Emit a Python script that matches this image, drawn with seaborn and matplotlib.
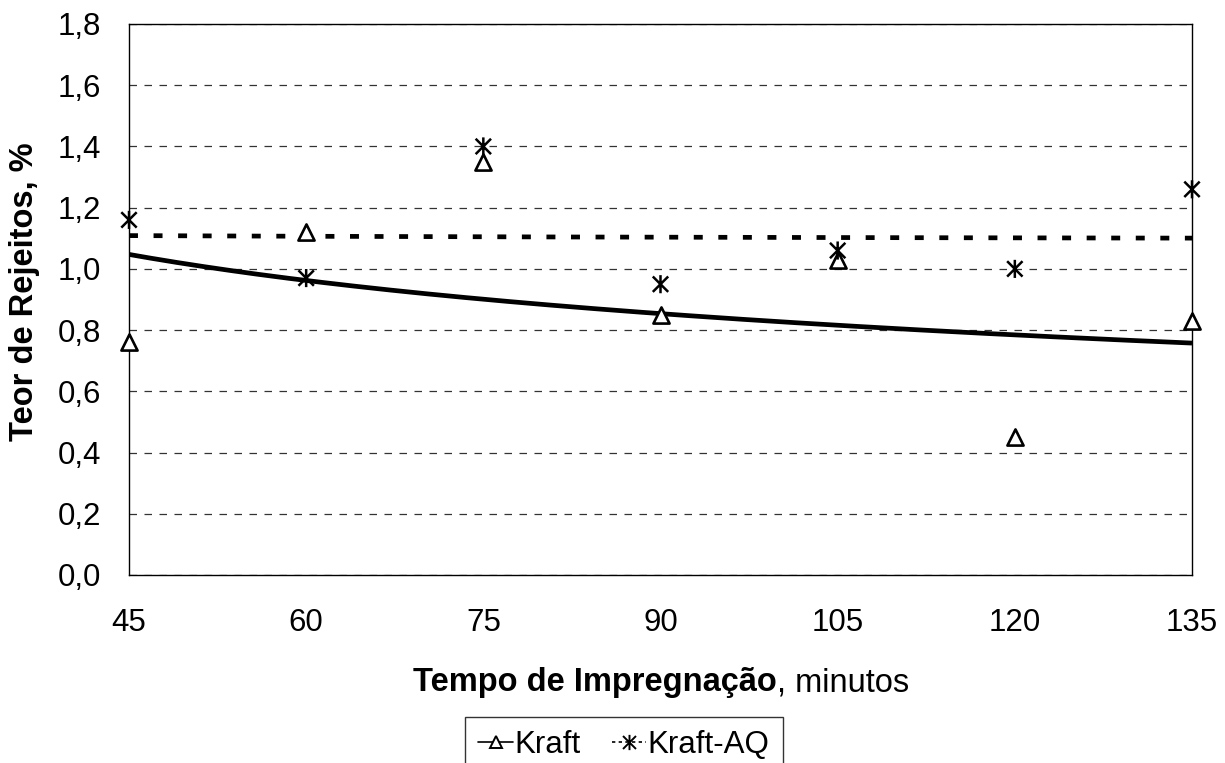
import numpy as np
import pandas as pd
import matplotlib
matplotlib.use("Agg")
import matplotlib.pyplot as plt
from matplotlib.path import Path
from matplotlib.lines import Line2D
import seaborn as sns

# Impregnation time (minutes) and reject content (%) for each cooking process
tempo = [45, 60, 75, 90, 105, 120, 135]
kraft = [0.76, 1.12, 1.35, 0.85, 1.03, 0.45, 0.83]
kraft_aq = [1.16, 0.97, 1.40, 0.95, 1.06, 1.00, 1.26]

y_ticks = [0.0, 0.2, 0.4, 0.6, 0.8, 1.0, 1.2, 1.4, 1.6, 1.8]
y_tick_labels = ["0,0", "0,2", "0,4", "0,6", "0,8", "1,0", "1,2", "1,4", "1,6", "1,8"]

sns.set_theme(style="white")
plt.rcParams["font.family"] = ["Liberation Sans", "DejaVu Sans"]
plt.rcParams["text.color"] = "black"
plt.rcParams["axes.labelcolor"] = "black"
plt.rcParams["xtick.color"] = "black"
plt.rcParams["ytick.color"] = "black"

FS_TICK = 22.5
FS_LABEL = 23.5

fig = plt.figure(figsize=(12.25, 7.63), dpi=100)
ax = fig.add_axes([129 / 1225, 1 - 575 / 763, (1192 - 129) / 1225, (575 - 24) / 763])

df_k = pd.DataFrame({"tempo": tempo, "teor": kraft})
df_aq = pd.DataFrame({"tempo": tempo, "teor": kraft_aq})

# Excel-style star: vertical bar crossed by an X
star = Path(
    [(0, -1), (0, 1), (-0.85, -0.85), (0.85, 0.85), (-0.85, 0.85), (0.85, -0.85)],
    [Path.MOVETO, Path.LINETO, Path.MOVETO, Path.LINETO, Path.MOVETO, Path.LINETO],
)


def power_trend(x, y, xs):
    b, ln_a = np.polyfit(np.log(x), np.log(y), 1)
    return np.exp(ln_a) * np.asarray(xs) ** b


xs = np.linspace(min(tempo), max(tempo), 200)
trend = pd.DataFrame({
    "tempo": xs,
    "kraft": power_trend(tempo, kraft, xs),
    "kraft_aq": power_trend(tempo, kraft_aq, xs),
})

sns.lineplot(data=trend, x="tempo", y="kraft", ax=ax, color="black", lw=3.4,
             solid_capstyle="butt", zorder=3)
sns.lineplot(data=trend, x="tempo", y="kraft_aq", ax=ax, color="black", lw=3.4,
             zorder=3).lines[-1].set_dashes((1.9, 3.3))

sns.scatterplot(data=df_k, x="tempo", y="teor", ax=ax, marker="^", s=135,
                facecolor="white", edgecolor="black", linewidth=1.9, zorder=4,
                clip_on=False)
sns.scatterplot(data=df_aq, x="tempo", y="teor", ax=ax, marker=star, s=170,
                facecolor="none", edgecolor="black", linewidth=1.8, zorder=5,
                clip_on=False)

ax.set_xlim(45, 135)
ax.set_ylim(0, 1.8)
ax.set_xticks(tempo)
ax.set_xticklabels([str(t) for t in tempo], fontsize=FS_TICK)
ax.set_yticks(y_ticks)
ax.set_yticklabels(y_tick_labels, fontsize=FS_TICK)
ax.tick_params(axis="x", direction="out", length=8, width=1, color="black", pad=16)
ax.tick_params(axis="y", direction="inout", length=12, width=1, color="black", pad=14)

ax.yaxis.grid(True, linestyle=(0, (6, 6)), color="#333333", lw=0.9)
ax.xaxis.grid(False)
for s in ax.spines.values():
    s.set_visible(True)
    s.set_color("black")
    s.set_linewidth(1.0)

ax.set_xlabel("")
ax.set_ylabel("")

# Y axis title
fig.text(25 / 1225, 1 - 292 / 763, "Teor de Rejeitos, %", rotation=90,
         fontsize=FS_LABEL, fontweight="bold", ha="center", va="center")

# X axis title: bold quantity followed by regular unit
t1 = fig.text(0.5, 1 - 691 / 763, "Tempo de Impregnação", fontsize=FS_LABEL,
              fontweight="bold", ha="left", va="baseline")
t2 = fig.text(0.5, 1 - 691 / 763, ", minutos", fontsize=FS_LABEL,
              ha="left", va="baseline")
fig.canvas.draw()
r = fig.canvas.get_renderer()
w1 = t1.get_window_extent(r).width
w2 = t2.get_window_extent(r).width
cx = 661
x0 = cx - (w1 + w2) / 2
t1.set_x(x0 / 1225)
t2.set_x((x0 + w1) / 1225)

handles = [
    Line2D([], [], color="black", lw=1.2, marker="^", markersize=9,
           markerfacecolor="white", markeredgecolor="black", markeredgewidth=1.4),
    Line2D([], [], color="black", lw=1.2, linestyle=(0, (2, 2)), marker=star,
           markersize=11, markeredgewidth=1.4),
]
leg = fig.legend(handles, ["Kraft", "Kraft-AQ"], loc="upper center",
                 bbox_to_anchor=(624 / 1225, 1 - 717 / 763), ncol=2,
                 fontsize=FS_TICK, frameon=True, fancybox=False,
                 handlelength=1.1, handletextpad=0.05, columnspacing=1.0,
                 borderpad=0.42, borderaxespad=0, edgecolor="black")
leg.get_frame().set_linewidth(1.0)

fig.savefig("out.png", dpi=100)
